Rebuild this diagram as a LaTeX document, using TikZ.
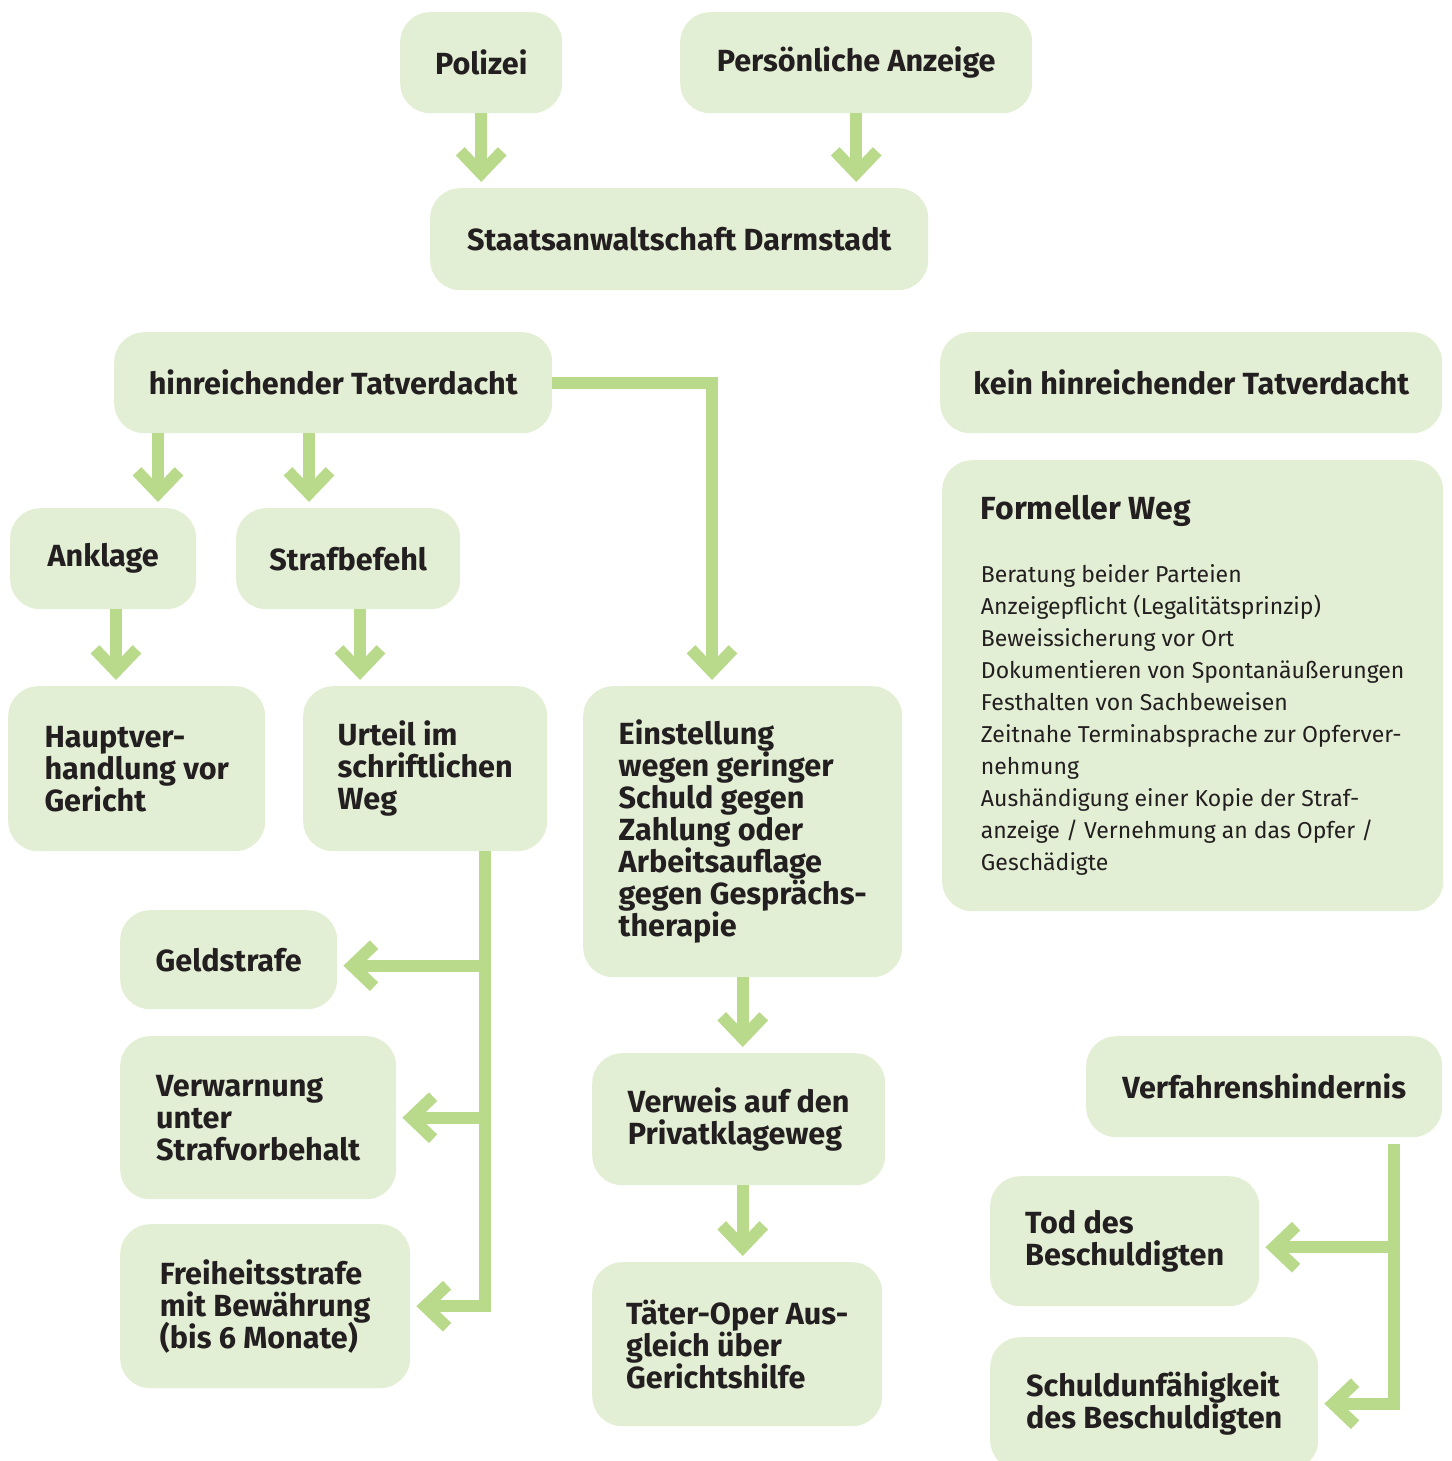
\documentclass[tikz,border=0pt]{standalone}
\usepackage{fontspec}
\setmainfont{Fira Sans}
\usetikzlibrary{arrows.meta, positioning}

\definecolor{boxgreen}{HTML}{E3EFD4}
\definecolor{linegreen}{HTML}{B9DA8A}
\definecolor{ink}{HTML}{231F20}

\newcommand\boxfont{\bfseries\fontsize{30.6}{32}\selectfont\lineskiplimit=-20pt\relax}
\newcommand\infofont{\fontsize{23}{32}\selectfont\lineskiplimit=-20pt\relax}

\tikzset{
  box/.style={fill=boxgreen, rounded corners=30pt, text=ink, align=left,
    inner sep=0pt, anchor=north west, font=\boxfont},
  info/.style={box, font=\infofont},
  wh/.style 2 args={minimum width=#1pt, minimum height=#2pt},
  flow/.style={draw=linegreen, line width=12pt, line join=miter,
    -{Straight Barb[sharp, length=22pt, width=42pt]}, shorten >=6pt}
}

\begin{document}
\begin{tikzpicture}[x=1pt, y=-1pt]
        \useasboundingbox (0,0) rectangle (1451,1461);

        \node[box, wh={162}{101}] (polizei) at (400,12) {Polizei};
        \node[box, wh={352}{101}] (anzeige) at (680,12) {Persönliche Anzeige};
        \node[box, wh={498}{102}] (staats) at (430,188) {Staatsanwaltschaft Darmstadt};

        \node[box, wh={438}{101}] (hin) at (114,332) {hinreichender Tatverdacht};
        \node[box, wh={502}{101}] (kein) at (940,332) {kein hinreichender Tatverdacht};
        \node[info, wh={501}{451}] (formell) at (942,460)
            {{\bfseries\fontsize{32}{32}\selectfont Formeller Weg}\\[31pt]
             Beratung beider Parteien\\
             Anzeigepflicht (Legalitätsprinzip)\\
             Beweissicherung vor Ort\\
             Dokumentieren von Spontanäußerungen\\
             Festhalten von Sachbeweisen\\
             Zeitnahe Terminabsprache zur Opferver-\\
             nehmung\\
             Aushändigung einer Kopie der Straf-\\
             anzeige / Vernehmung an das Opfer /\\
             Geschädigte};

        \node[box, wh={186}{101}] (anklage) at (10,508) {Anklage};
        \node[box, wh={224}{101}] (strafbefehl) at (236,508) {Strafbefehl};
        \node[box, wh={257}{165}] (haupt) at (8,686) {Hauptver-\\handlung vor\\Gericht};
        \node[box, wh={244}{165}] (urteil) at (303,686) {Urteil im\\schriftlichen\\Weg};
        \node[box, wh={319}{291}] (einst) at (583,686)
            {Einstellung\\wegen geringer\\Schuld gegen\\Zahlung oder\\Arbeitsauflage\\gegen Gesprächs-\\therapie};

        \node[box, wh={217}{99}] (geld) at (120,910) {Geldstrafe};
        \node[box, wh={276}{163}] (verwarn) at (120,1036) {Verwarnung\\unter\\Strafvorbehalt};
        \node[box, wh={290}{164}] (freiheit) at (120,1224) {Freiheitsstrafe\\mit Bewährung\\(bis 6 Monate)};
        \node[box, wh={293}{132}] (verweis) at (592,1053) {Verweis auf den\\Privatklageweg};
        \node[box, wh={290}{164}] (taeter) at (592,1262) {Täter-Oper Aus-\\gleich über\\Gerichtshilfe};

        \node[box, wh={356}{101}] (hindernis) at (1086,1036) {Verfahrenshindernis};
        \node[box, wh={269}{130}] (tod) at (990,1176) {Tod des\\Beschuldigten};
        \node[box, wh={328}{133}] (schuld) at (990,1337) {Schuldunfähigkeit\\des Beschuldigten};

        % Abzweigpunkte
        \coordinate (c1) at ([xshift=44pt]hin.south west);
        \coordinate (c2) at ([xshift=195pt]hin.south west);
        \coordinate (c3) at ([xshift=106pt]anklage.south west);
        \coordinate (c4) at ([xshift=124pt]strafbefehl.south west);
        \coordinate (c5) at ([xshift=129pt]einst.north west);
        \coordinate (c6) at ([xshift=-62pt]urteil.south east);
        \coordinate (c7) at ([xshift=-48pt, yshift=-7pt]hindernis.south east);
        \coordinate (g) at ([yshift=-6pt]geld.east);
        \coordinate (t) at ([yshift=-6pt]tod.east);

        \draw[flow] (polizei) -- (polizei |- staats.north);
        \draw[flow] (anzeige) -- (anzeige |- staats.north);
        \draw[flow] (c1) -- (c1 |- anklage.north);
        \draw[flow] (c2) -- (c2 |- strafbefehl.north);
        \draw[flow] (hin.east) -| (c5);
        \draw[flow] (c3) -- (c3 |- haupt.north);
        \draw[flow] (c4) -- (c4 |- urteil.north);
        \draw[flow] (einst) -- (einst |- verweis.north);
        \draw[flow] (einst |- verweis.south) -- (einst |- taeter.north);

        \draw[flow] (c6) |- (freiheit.east);
        \draw[flow] (g -| c6) -- (g);
        \draw[flow] (c6 |- verwarn.east) -- (verwarn.east);

        \draw[flow] (c7) |- (schuld.east);
        \draw[flow] (t -| c7) -- (t);

    \end{tikzpicture}
\end{document}
